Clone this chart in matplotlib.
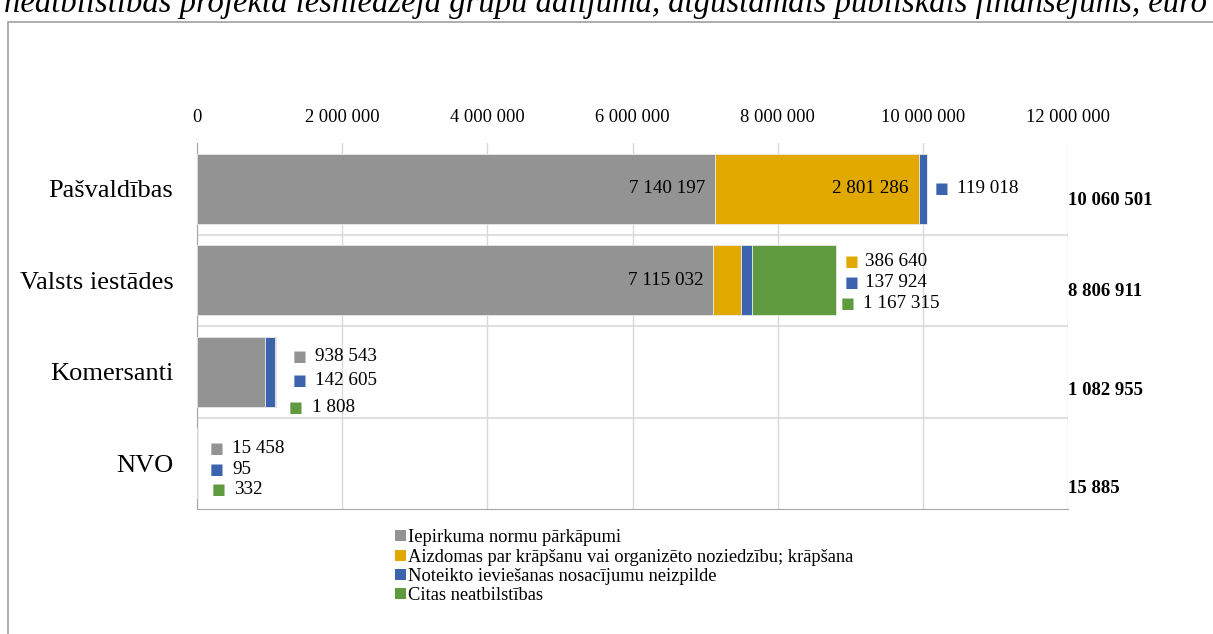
import matplotlib
matplotlib.use("Agg")
import matplotlib.pyplot as plt
from matplotlib.patches import Patch, Rectangle
import numpy as np

plt.rcParams['font.family'] = ['Liberation Serif', 'DejaVu Serif']

# Data
groups = ["Pašvaldības", "Valsts iestādes", "Komersanti", "NVO"]
series = ["Iepirkuma normu pārkāpumi",
          "Aizdomas par krāpšanu vai organizēto noziedzību; krāpšana",
          "Noteikto ieviešanas nosacījumu neizpilde",
          "Citas neatbilstības"]
procurement = [7140197, 7115032, 938543, 15458]
fraud = [2801286, 386640, 0, 0]
conditions = [119018, 137924, 142605, 95]
other = [0, 1167315, 1808, 332]
totals = [10060501, 8806911, 1082955, 15885]
ticks = [0, 2000000, 4000000, 6000000, 8000000, 10000000, 12000000]

colors = ["#939393", "#E1A900", "#3C64AE", "#5F9A3F"]
values = [procurement, fraud, conditions, other]

def fmt(v):
    return f"{v:,}".replace(",", " ")

W, H = 1213, 634
fig = plt.figure(figsize=(W / 100, H / 100), dpi=100)
ax = fig.add_axes([197 / W, 1 - 509 / H, (1068 - 197) / W, (509 - 143) / H])

y = np.arange(len(groups))
left = np.zeros(len(groups))
for vals, c, name in zip(values, colors, series):
    ax.barh(y, vals, left=left, height=0.77, color=c, edgecolor="#e8e8e8",
            linewidth=0.6, label=name, zorder=3)
    left += np.array(vals)

ax.set_xlim(0, 12000000)
ax.set_ylim(3.5, -0.5)
ax.set_xticks(ticks)
ax.set_xticklabels([fmt(t) for t in ticks], fontsize=13.3)
ax.xaxis.tick_top()
ax.tick_params(axis="x", length=0, pad=12)
ax.set_yticks(y)
ax.set_yticklabels(groups, fontsize=19)
ax.tick_params(axis="y", length=0, pad=17)
ax.grid(axis="x", color="#d9d9d9", linewidth=1, zorder=0)
for b in np.arange(0.5, len(groups) - 0.5, 1):
    ax.axhline(b, color="#e0e0e0", linewidth=1.5, zorder=1)
for s in ["top", "right"]:
    ax.spines[s].set_visible(False)
ax.spines["left"].set_color("#a6a6a6")
ax.spines["bottom"].set_color("#a6a6a6")

px = 0.72  # points per pixel
lab_fs = 13.8

# labels inside the big segments (inside end)
inside = [(0, 0), (0, 1), (1, 0)]
for s_i, g in inside:
    v = values[s_i][g]
    end = sum(values[k][g] for k in range(s_i + 1))
    ax.annotate(fmt(v), xy=(end, g), xytext=(-10 * px, 0), textcoords="offset points",
                ha="right", va="center", fontsize=lab_fs, zorder=5)

# small labels outside with colour keys: (group, series, dx square, dx text, dy) in px
outside = [
    (0, 2, 14, 30, 0),
    (1, 1, 15, 29, -18.5), (1, 2, 15, 29, 2.5), (1, 3, 11, 27, 23.5),
    (2, 0, 24, 39, -15.5), (2, 2, 24, 39, 8.5), (2, 3, 20, 36, 35.5),
    (3, 0, 18, 34, -15), (3, 2, 18, 34, 6), (3, 3, 20, 36, 26),
]
for g, s_i, dxs, dxt, dy in outside:
    end = sum(values[k][g] for k in range(4))
    ax.annotate("■", xy=(end, g), xytext=(dxs * px, -dy * px), textcoords="offset points",
                ha="center", va="center", fontsize=10.5, color=colors[s_i],
                family="DejaVu Sans", zorder=5)
    ax.annotate(fmt(values[s_i][g]), xy=(end, g), xytext=(dxt * px, -dy * px),
                textcoords="offset points", ha="left", va="center", fontsize=lab_fs, zorder=5)

# totals to the right of the plot area
total_dy = [12, 11, 19, 25]
for g, t in enumerate(totals):
    ax.annotate(fmt(t), xy=(12000000, g), xytext=(0, -total_dy[g] * px),
                textcoords="offset points", ha="left", va="center",
                fontsize=13.5, fontweight="bold", annotation_clip=False)

handles = [Patch(facecolor=c, edgecolor="none") for c in colors]
fig.legend(handles, series, loc="upper left", bbox_to_anchor=(388 / W, 1 - 522 / H),
           frameon=False, fontsize=13.3, handlelength=0.55, handleheight=0.55,
           handletextpad=0.15, labelspacing=0.12, borderaxespad=0)

# outer frame and cut-off caption at the top
fig.patches.append(Rectangle((8 / W, -0.05), 1.1, 1 - 22 / H + 0.05, transform=fig.transFigure,
                             fill=False, edgecolor="#a0a0a0", linewidth=1.2))
fig.text(4 / W, 1 - 12 / H, "neatbilstības projekta iesniedzēja grupu dalījumā, atgūstamais publiskais finansējums, euro",
         fontsize=23.5, style="italic", ha="left", va="baseline")

fig.savefig("out.png", dpi=100)
